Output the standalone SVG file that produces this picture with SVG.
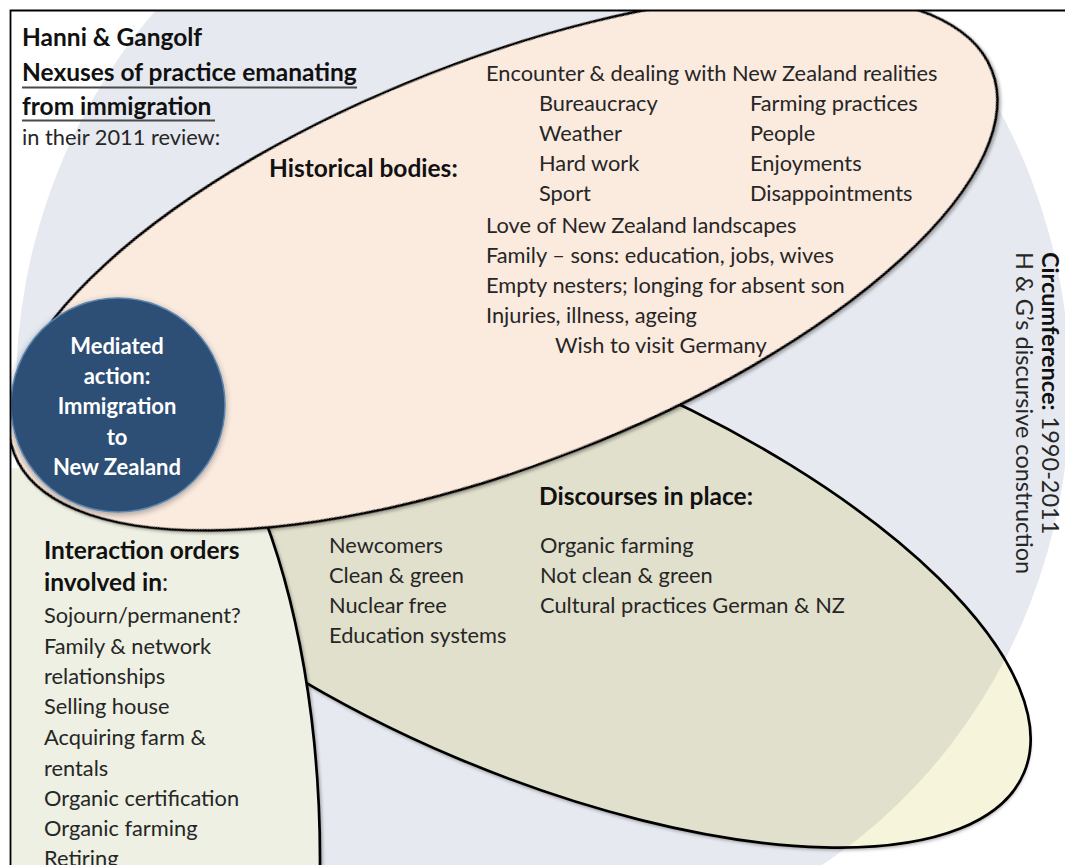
<svg xmlns="http://www.w3.org/2000/svg" width="1065" height="865" viewBox="0 0 1065 865">
  <defs>
    <clipPath id="frame-clip"><rect x="10" y="10" width="1100" height="900"/></clipPath>
    <clipPath id="circ-clip"><ellipse cx="543" cy="390" rx="527" ry="560"/></clipPath>
    <clipPath id="green-clip"><rect x="0" y="468" width="400" height="420"/></clipPath>
    <filter id="soft" x="-10%" y="-10%" width="120%" height="130%">
      <feDropShadow dx="1.5" dy="2.5" stdDeviation="1.5" flood-color="#000" flood-opacity="0.3"/>
    </filter>
    <filter id="glow" x="-20%" y="-20%" width="140%" height="140%">
      <feDropShadow dx="0" dy="2" stdDeviation="3" flood-color="#000" flood-opacity="0.35"/>
    </filter>
  </defs>
  <style>
    text { font-family: Lato, "Liberation Sans", sans-serif; font-size: 21.8px; fill: #262626; }
    .b { font-weight: bold; fill: #111; font-size: 24.5px; }
    .w { font-weight: bold; fill: #fff; text-anchor: middle; font-size: 22px; }
    .v { font-size: 23.5px; }
    .v .b { font-size: 23.5px; }
    .line { fill: none; stroke: #000; stroke-width: 2.7; }
    .ul { stroke: #4a4a4a; stroke-width: 2; }
  </style>

  <rect width="1065" height="865" fill="#fff"/>

  <g clip-path="url(#frame-clip)">
    <!-- circumference: large pale disc behind everything -->
    <g id="circumference">
      <ellipse cx="543" cy="390" rx="527" ry="560" fill="#e6e9ef"/>
    </g>

    <!-- discourses in place -->
    <g id="discourses">
      <ellipse cx="536.7" cy="567" rx="529" ry="207" transform="rotate(22.9 536.7 567)" fill="#f6f5dc" filter="url(#soft)"/>
      <g clip-path="url(#circ-clip)">
        <ellipse cx="536.7" cy="567" rx="529" ry="207" transform="rotate(22.9 536.7 567)" fill="#e1e0cc"/>
      </g>
      <ellipse class="line" cx="536.7" cy="567" rx="529" ry="207" transform="rotate(22.9 536.7 567)"/>
    </g>

    <!-- interaction orders -->
    <g id="interaction-orders" clip-path="url(#green-clip)">
      <ellipse cx="95" cy="860" rx="225" ry="520" fill="#edf0e2" stroke="#000" stroke-width="2.7" filter="url(#soft)"/>
    </g>

    <!-- historical bodies -->
    <g id="historical-bodies">
      <ellipse cx="503" cy="262" rx="525" ry="202" transform="rotate(-21.4 503 262)" fill="#fbeade" stroke="#000" stroke-width="2.7" filter="url(#soft)"/>
    </g>

    <!-- mediated action -->
    <g id="mediated-action">
      <circle cx="118" cy="405" r="107" fill="#2f5075" stroke="#5b85b2" stroke-width="1.5" filter="url(#glow)"/>
    </g>
  </g>

  <!-- outer frame -->
  <path d="M10.5 865 V10.5 H1065" fill="none" stroke="#000" stroke-width="1.8"/>

  <!-- heading -->
  <g id="heading">
    <text class="b" x="22" y="46">Hanni &amp; Gangolf</text>
    <text class="b" x="22" y="81">Nexuses of practice emanating</text>
    <line class="ul" x1="22" y1="87.5" x2="357" y2="87.5"/>
    <text class="b" x="22" y="115">from immigration</text>
    <line class="ul" x1="22" y1="120.5" x2="215" y2="120.5"/>
    <text x="22" y="145">in their 2011 review:</text>
  </g>

  <!-- historical bodies text -->
  <g id="historical-text">
    <text class="b" x="269" y="177">Historical bodies:</text>
    <text x="486" y="81">Encounter &amp; dealing with New Zealand realities</text>
    <text x="539" y="111">Bureaucracy</text>
    <text x="750" y="111">Farming practices</text>
    <text x="539" y="141">Weather</text>
    <text x="750" y="141">People</text>
    <text x="539" y="171">Hard work</text>
    <text x="750" y="171">Enjoyments</text>
    <text x="539" y="201">Sport</text>
    <text x="750" y="201">Disappointments</text>
    <text x="486" y="233">Love of New Zealand landscapes</text>
    <text x="486" y="263">Family – sons: education, jobs, wives</text>
    <text x="486" y="293">Empty nesters; longing for absent son</text>
    <text x="486" y="323">Injuries, illness, ageing</text>
    <text x="555" y="353">Wish to visit Germany</text>
  </g>

  <!-- discourses text -->
  <g id="discourses-text">
    <text class="b" x="539" y="505">Discourses in place:</text>
    <text x="329" y="553">Newcomers</text>
    <text x="329" y="583">Clean &amp; green</text>
    <text x="329" y="613">Nuclear free</text>
    <text x="329" y="643">Education systems</text>
    <text x="540" y="553">Organic farming</text>
    <text x="540" y="583">Not clean &amp; green</text>
    <text x="540" y="613">Cultural practices German &amp; NZ</text>
  </g>

  <!-- interaction orders text -->
  <g id="interaction-text">
    <text class="b" x="44" y="559">Interaction orders</text>
    <text x="44" y="591" style="font-size:24.5px"><tspan class="b">involved in</tspan>:</text>
    <text x="44" y="623">Sojourn/permanent?</text>
    <text x="44" y="654">Family &amp; network</text>
    <text x="44" y="684">relationships</text>
    <text x="44" y="714">Selling house</text>
    <text x="44" y="745">Acquiring farm &amp;</text>
    <text x="44" y="776">rentals</text>
    <text x="44" y="806">Organic certification</text>
    <text x="44" y="836">Organic farming</text>
    <text x="44" y="866">Retiring</text>
  </g>

  <!-- mediated action text -->
  <g id="mediated-text">
    <text class="w" x="117" y="354">Mediated</text>
    <text class="w" x="117" y="384">action:</text>
    <text class="w" x="117" y="414">Immigration</text>
    <text class="w" x="117" y="445">to</text>
    <text class="w" x="117" y="475">New Zealand</text>
  </g>

  <!-- circumference labels -->
  <g id="circumference-text">
    <text class="v" transform="translate(1042 252) rotate(90)"><tspan class="b">Circumference:</tspan> 1990-2011</text>
    <text class="v" transform="translate(1016 252) rotate(90)">H &amp; G’s  discursive construction</text>
  </g>
</svg>
